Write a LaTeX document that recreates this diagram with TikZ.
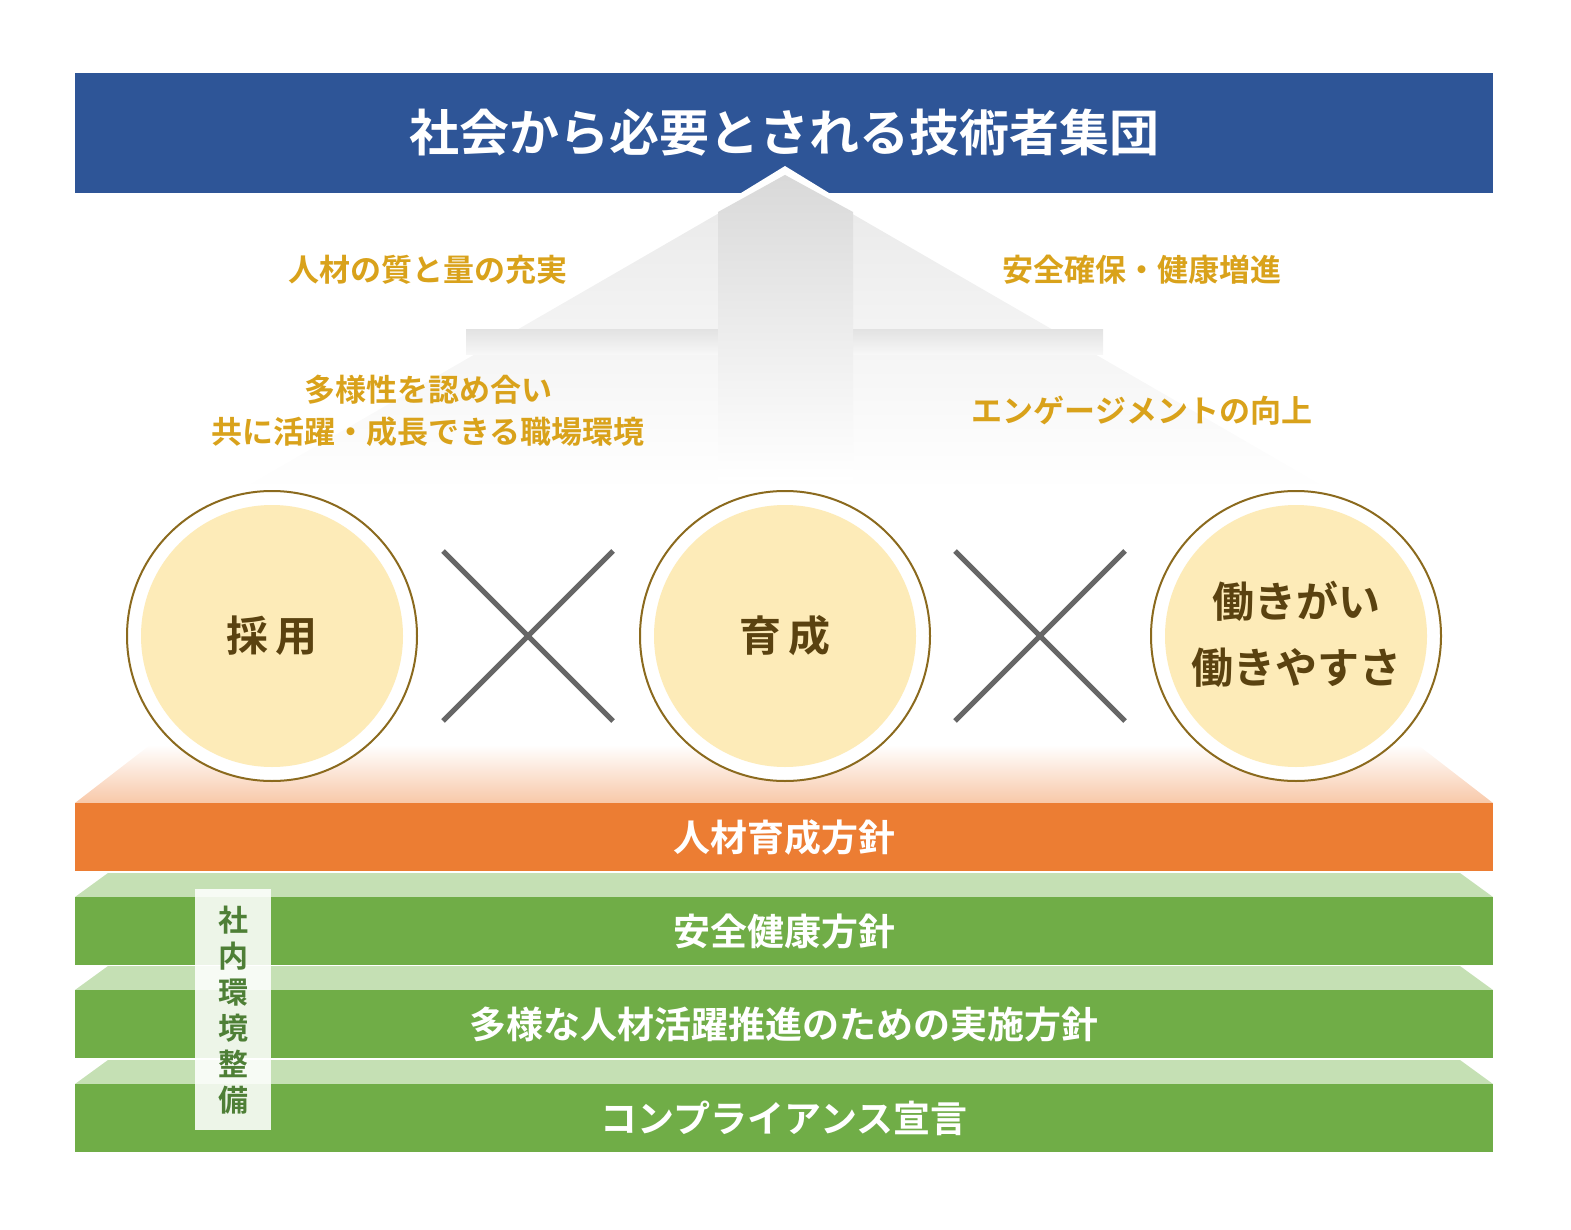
\documentclass[tikz,border=0pt]{standalone}
\usepackage{fontspec}
\setmainfont{Noto Sans CJK JP Bold}
\usetikzlibrary{fadings}
\definecolor{navy}{HTML}{2E5597}
\definecolor{gold}{HTML}{D9A21B}
\definecolor{ring}{HTML}{8B6A1E}
\definecolor{cream}{HTML}{FDEBB8}
\definecolor{brownt}{HTML}{5A4210}
\definecolor{orng}{HTML}{EC7D33}
\definecolor{salmon}{HTML}{F8C8A8}
\definecolor{grn}{HTML}{70AD47}
\definecolor{lgrn}{HTML}{C5E0B4}
\definecolor{vtxt}{HTML}{4E7F36}
\tikzset{
 goldtxt/.style={text=gold,font=\fontsize{31}{42}\selectfont,align=center},
 bandtxt/.style={text=white,font=\fontsize{37}{40}\selectfont},
 circtxt/.style={text=brownt,font=\fontsize{42}{66}\selectfont,align=center},
 xline/.style={line width=5pt,draw=black!60},
}
\begin{document}
\begin{tikzpicture}[x=1pt,y=-1pt]
\useasboundingbox (0,0) rectangle (1571,1230);
% title bar
\fill[navy] (75,73) rectangle (1493,193);
\node[text=white,font=\fontsize{50}{50}\selectfont] (title) at (784,133) {社会から必要とされる技術者集団};
% roof
\fill[white] (785,166) -- (860,212) -- (710,212) -- cycle;
\shade[top color=black!9,bottom color=white] (785,175) -- (1330,490) -- (240,490) -- cycle;
\shade[top color=black!11,bottom color=black!3] (466,330) rectangle (1103,355);
\shade[top color=black!15,bottom color=white] (785,175) -- (853,212) -- (853,480) -- (718,480) -- (718,212) -- cycle;
% texts
\node[goldtxt] (t1) at (428,270) {人材の質と量の充実};
\node[goldtxt] (t2) at (1142,270) {安全確保・健康増進};
\node[goldtxt] (t3) at (428,411) {多様性を認め合い\\共に活躍・成長できる職場環境};
\node[goldtxt] (t4) at (1142,411) {エンゲージメントの向上};
% orange layer
\shade[top color=white,bottom color=salmon] (75,803) -- (150,745) -- (1418,745) -- (1493,803) -- cycle;
\fill[orng] (75,803) rectangle (1493,871);
\node[bandtxt] (b1) at (784,837) {人材育成方針};
% green layers
\foreach \y in {873,966,1060}{
 \fill[lgrn] (75,\y+24) -- (108,\y) -- (1460,\y) -- (1493,\y+24) -- cycle;
 \fill[grn] (75,\y+24) rectangle (1493,\y+92);
}
\node[bandtxt] (b2) at (784,931) {安全健康方針};
\node[bandtxt] (b3) at (784,1024) {多様な人材活躍推進のための実施方針};
\node[bandtxt] (b4) at (784,1118) {コンプライアンス宣言};
\fill[white,opacity=0.88] (195,889) rectangle (271,1130);
\node[text=vtxt,font=\fontsize{30}{36}\selectfont,align=center] (v) at (233,1010) {社\\内\\環\\境\\整\\備};
% circles
\foreach \cx/\nm in {272/c1,785/c2,1296/c3}{
 \fill[white,draw=ring,line width=2pt] (\cx,636) circle (145);
 \fill[cream] (\cx,636) circle (131);
}
\node[circtxt] (c1) at (272,636) {採\,用};
\node[circtxt] (c2) at (785,636) {育\,成};
\node[circtxt] (c3) at (1296,634) {働きがい\\働きやすさ};
% crosses
\foreach \cx in {528,1040}{
 \draw[xline] (\cx-85,551) -- (\cx+85,721);
 \draw[xline] (\cx+85,551) -- (\cx-85,721);
}
\end{tikzpicture}
\end{document}
